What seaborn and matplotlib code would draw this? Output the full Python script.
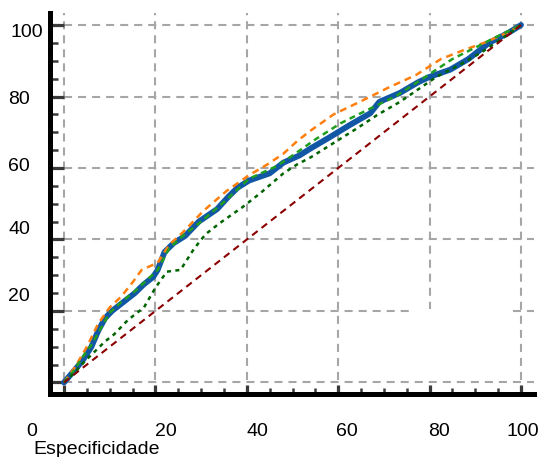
import matplotlib
matplotlib.use("Agg")
import matplotlib.pyplot as plt
import matplotlib.transforms as mtransforms
from matplotlib.patches import Rectangle
from matplotlib.ticker import MultipleLocator, FixedLocator
import seaborn as sns

# ---------------- data ----------------
blue_x = [0, 2, 4, 6, 7.5, 9, 10.5, 12.5, 15.5, 17.5, 19.5, 20.5, 22, 24, 26.5, 29.5,
          33.5, 36, 38, 40.5, 45, 48, 51.5, 54, 58, 62.5, 67, 69, 73.5, 77.5, 80,
          84.5, 88.5, 93, 97.5, 100]
blue_y = [0, 3, 6, 10, 14.5, 18, 20, 22, 25, 27.5, 29.5, 31.5, 36.5, 39, 41, 45,
          48.5, 52, 54.5, 56.5, 58.5, 61.5, 63.5, 65.5, 68.5, 72, 75.3, 78.5, 81, 84, 85.5,
          87.5, 90.5, 95, 98, 100]

orange_x = [0, 2.5, 5, 7.5, 10, 12.5, 15, 17, 20.5, 23, 26, 30.5, 35.5, 40.5, 44.5,
            48, 51, 54, 59, 65.5, 71, 77, 82.5, 87.5, 92.5, 97.5, 100]
orange_y = [0, 4.5, 10, 16.5, 21, 24, 28, 31.5, 33.5, 38.5, 42, 48, 53.5, 58, 61,
            64, 67.5, 70.5, 75, 79, 82.5, 86, 90.5, 93, 95.3, 98.2, 100]

green_x = [0, 2, 4, 6, 8, 10, 12.5, 15.5, 18, 20.5, 23, 26, 30, 35, 40.5, 46.5, 50,
           55, 60.5, 66, 72.5, 78.5, 85, 90.5, 94, 100]
green_y = [0, 3, 7, 10.5, 15, 19.5, 22.5, 25.5, 28.5, 31.5, 37.5, 41, 45, 50.5, 57,
           60.5, 63.5, 68, 72.5, 76, 80, 85, 90.5, 94, 96.3, 100]

dkgreen_x = [0, 2.5, 4.6, 7, 9, 11, 14, 17.5, 20, 22.5, 25.5, 28.5, 31, 34, 39, 43,
             48, 51, 54, 59, 64, 68.5, 73.5, 77.5, 81.5, 87.5, 91.5, 96, 100]
dkgreen_y = [0, 3, 6, 9, 11.5, 13.5, 17.5, 21, 26.5, 31, 31.5, 37.5, 41.5, 44.5, 49,
             53, 58.5, 61, 63, 67, 71, 74.8, 78.5, 82, 85.5, 89.5, 92.5, 96.3, 100]

ref_x = [0, 100]
ref_y = [0, 100]

tick_values = [0, 20, 40, 60, 80, 100]
x_tick_labels = ["0", "20", "40", "60", "80", "100"]
y_tick_labels = ["", "20", "40", "60", "80", "100"]
x_title = "Especificidade"

# ---------------- style ----------------
sns.set_style("white")
plt.rcParams["font.family"] = ["Liberation Sans", "DejaVu Sans"]
plt.rcParams["lines.scale_dashes"] = False

DPI = 100
fig = plt.figure(figsize=(5.45, 4.57), dpi=DPI)
ax = fig.add_axes([50 / 545, 63 / 457, 484 / 545, 381 / 457])

# blank area (as in the reference, the grid is hidden there)
ax.add_patch(Rectangle((0.75, 0.0367), 0.2, 0.1864, transform=ax.transAxes,
                       facecolor="white", edgecolor="none", zorder=0.8))

sns.lineplot(x=blue_x, y=blue_y, ax=ax, color="#1257a6", linewidth=4.2,
             sort=False, estimator=None, zorder=3)
sns.lineplot(x=orange_x, y=orange_y, ax=ax, color="#ff7f0e", linewidth=1.8,
             linestyle=(0, (5.0, 3.6)), sort=False, estimator=None, zorder=3.1)
sns.lineplot(x=green_x, y=green_y, ax=ax, color="#1f9e1f", linewidth=1.8,
             linestyle=(0, (4.3, 3.2)), sort=False, estimator=None, zorder=3.2)
sns.lineplot(x=dkgreen_x, y=dkgreen_y, ax=ax, color="#006400", linewidth=1.8,
             linestyle=(0, (2.9, 3.2)), sort=False, estimator=None, zorder=3.3)
sns.lineplot(x=ref_x, y=ref_y, ax=ax, color="#8b0000", linewidth=1.5,
             linestyle=(0, (5.0, 3.6)), sort=False, estimator=None, zorder=3.4)

ax.set_xlim(-3.06, 102.84)
ax.set_ylim(-3.22, 103.36)
ax.set_xlabel("")
ax.set_ylabel("")

# spines
for s in ["top", "right"]:
    ax.spines[s].set_visible(False)
for s in ["left", "bottom"]:
    ax.spines[s].set_visible(True)
    ax.spines[s].set_color("black")
    ax.spines[s].set_linewidth(3.6)

# ticks
ax.xaxis.set_major_locator(FixedLocator(tick_values))
ax.yaxis.set_major_locator(FixedLocator(tick_values))
ax.xaxis.set_minor_locator(MultipleLocator(5))
ax.yaxis.set_minor_locator(MultipleLocator(5))
ax.set_xticklabels(x_tick_labels)
ax.set_yticklabels(y_tick_labels)

tick_col = "#3a3a3a"
ax.tick_params(axis="x", which="major", direction="in", length=6.5, width=2.3,
               color=tick_col, labelsize=14, pad=20.9, labelcolor="black")
ax.tick_params(axis="x", which="minor", direction="in", length=4.0, width=1.8,
               color=tick_col)
ax.tick_params(axis="y", which="major", direction="in", length=10.0, width=2.3,
               color=tick_col, labelsize=14, pad=30.2, labelcolor="black")
ax.tick_params(axis="y", which="minor", direction="in", length=5.5, width=1.8,
               color=tick_col)
ax.tick_params(axis="both", which="both", bottom=True, left=True, top=False, right=False)
for lab in ax.get_yticklabels():
    lab.set_horizontalalignment("left")

# grid
ax.set_axisbelow(True)
ax.grid(True, which="major", color="#a6a6a6", linewidth=1.5,
        linestyle=(0, (5.8, 4.3)))
ax.grid(False, which="minor")

# label offsets (pixels) to mimic the reference placement
x_off = [-32, 10, 11, 9, 9.5, 2]
y_off = [0, -16, -12, -3.7, 0.5, 5]  # positive = down
y_dx = [0, 0, 0, 0, 0, 2]
for lab, dx in zip(ax.get_xticklabels(), x_off):
    lab.set_transform(lab.get_transform() +
                      mtransforms.ScaledTranslation(dx / DPI, 0, fig.dpi_scale_trans))
for lab, dy, dx in zip(ax.get_yticklabels(), y_off, y_dx):
    lab.set_transform(lab.get_transform() +
                      mtransforms.ScaledTranslation(dx / DPI, -dy / DPI, fig.dpi_scale_trans))

fig.text(33 / 545, 3 / 457, x_title, fontsize=14, ha="left", va="baseline",
         color="black")

fig.savefig("out.png", dpi=DPI)
